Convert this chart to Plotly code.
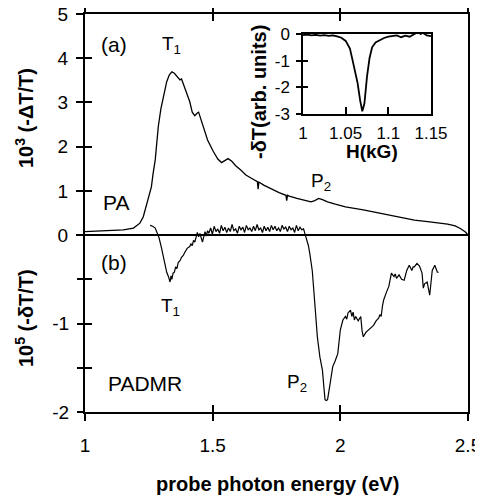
import plotly.graph_objects as go

# ---------------- data ----------------
pa_energy = [1.00, 1.05, 1.10, 1.15, 1.19, 1.215, 1.228, 1.247, 1.26, 1.267, 1.275, 1.287, 1.297,
             1.307, 1.32, 1.33, 1.34, 1.35, 1.36, 1.372, 1.378, 1.39, 1.40, 1.41, 1.42, 1.43,
             1.44, 1.445, 1.455, 1.465, 1.48, 1.50, 1.52, 1.535, 1.55, 1.56, 1.575, 1.59, 1.61,
             1.63, 1.65, 1.675, 1.678, 1.681, 1.70, 1.73, 1.76, 1.787, 1.79, 1.793, 1.80, 1.83,
             1.86, 1.885, 1.90, 1.915, 1.93, 1.95, 1.98, 2.02, 2.09, 2.16, 2.22, 2.29, 2.35,
             2.42, 2.45, 2.47, 2.49, 2.50]
pa_signal = [0.08, 0.09, 0.10, 0.12, 0.16, 0.27, 0.41, 0.79, 1.09, 1.40, 1.70, 2.45, 2.85,
             3.12, 3.47, 3.62, 3.69, 3.66, 3.60, 3.51, 3.53, 3.35, 3.20, 3.02, 2.78, 2.70,
             2.76, 2.78, 2.60, 2.40, 2.15, 1.92, 1.72, 1.64, 1.70, 1.73, 1.67, 1.57, 1.47,
             1.36, 1.29, 1.21, 1.04, 1.20, 1.13, 1.04, 0.96, 0.90, 0.78, 0.90, 0.88, 0.83,
             0.78, 0.75, 0.78, 0.83, 0.80, 0.75, 0.70, 0.64, 0.57, 0.49, 0.41, 0.34, 0.30,
             0.25, 0.21, 0.15, 0.07, 0.00]

padmr_energy = [1.255, 1.265, 1.275, 1.283, 1.287, 1.29, 1.30, 1.307, 1.315, 1.32, 1.327, 1.333,
                1.337, 1.34, 1.345, 1.35, 1.355, 1.36, 1.365, 1.372, 1.378, 1.385, 1.39, 1.395,
                1.40, 1.41, 1.415, 1.42, 1.425, 1.43, 1.435, 1.44, 1.445, 1.45, 1.455, 1.46,
                1.465, 1.47, 1.475, 1.48, 1.485,
                1.492, 1.499, 1.506, 1.513, 1.520, 1.527, 1.534, 1.541, 1.548, 1.555, 1.562,
                1.569, 1.576, 1.583, 1.590, 1.597, 1.604, 1.611, 1.618, 1.625, 1.632, 1.639,
                1.646, 1.653, 1.660, 1.667, 1.674, 1.681, 1.688, 1.695, 1.702, 1.709, 1.716,
                1.723, 1.730, 1.737, 1.744, 1.751, 1.758, 1.765, 1.772, 1.779, 1.786, 1.793,
                1.800, 1.807, 1.814, 1.821, 1.828, 1.835, 1.842, 1.849, 1.856, 1.861,
                1.865, 1.87, 1.875, 1.88, 1.885, 1.89, 1.90, 1.91, 1.92, 1.93, 1.935, 1.94,
                1.945, 1.95, 1.96, 1.97, 1.98, 1.99, 2.00, 2.01, 2.02, 2.025, 2.03, 2.04, 2.045,
                2.05, 2.055, 2.06, 2.07, 2.08, 2.085, 2.09, 2.10, 2.11, 2.12, 2.13, 2.14, 2.15,
                2.155, 2.16, 2.165, 2.17, 2.18, 2.19, 2.20, 2.21, 2.215, 2.22, 2.23, 2.24, 2.25,
                2.26, 2.27, 2.28, 2.285, 2.29, 2.30, 2.31, 2.32, 2.325, 2.33, 2.34, 2.35, 2.355,
                2.36, 2.37, 2.38, 2.385]
padmr_signal = [0.11, 0.10, 0.08, 0.03, 0.00, -0.03, -0.15, -0.25, -0.35, -0.42, -0.47, -0.53,
                -0.46, -0.50, -0.43, -0.42, -0.36, -0.38, -0.31, -0.29, -0.25, -0.23, -0.20, -0.18,
                -0.15, -0.13, -0.10, -0.12, -0.06, -0.08, -0.03, 0.03, -0.02, 0.02, -0.03, -0.08,
                -0.02, 0.04, -0.01, 0.05, 0.02,
                0.08, 0.01, 0.10, 0.04, 0.07, 0.02, 0.11, 0.05, 0.09, 0.03, 0.08,
                0.04, 0.12, 0.05, 0.07, 0.02, 0.10, 0.06, 0.09, 0.03, 0.11, 0.06,
                0.08, 0.04, 0.10, 0.05, 0.12, 0.06, 0.08, 0.03, 0.10, 0.05, 0.09,
                0.04, 0.11, 0.06, 0.10, 0.05, 0.08, 0.04, 0.11, 0.07, 0.09, 0.04,
                0.10, 0.06, 0.08, 0.03, 0.11, 0.05, 0.09, 0.06, 0.07, 0.02,
                -0.02, -0.06, -0.12, -0.20, -0.30, -0.40, -0.77, -1.15, -1.38, -1.53, -1.70, -1.86,
                -1.87, -1.86, -1.68, -1.49, -1.42, -1.34, -1.07, -0.96, -0.92, -0.95, -0.88, -0.85, -0.92,
                -0.87, -0.96, -0.92, -0.97, -0.92, -1.08, -1.15, -1.10, -1.07, -1.04, -1.02, -0.97, -0.94,
                -0.90, -0.92, -0.80, -0.73, -0.65, -0.58, -0.43, -0.47, -0.44, -0.49, -0.45, -0.50, -0.51,
                -0.40, -0.34, -0.40, -0.36, -0.36, -0.32, -0.35, -0.43, -0.60, -0.55, -0.53, -0.68, -0.50,
                -0.40, -0.34, -0.42, -0.42]

inset_field = [1.000, 1.005, 1.010, 1.015, 1.020, 1.025, 1.030, 1.035, 1.040, 1.045, 1.050, 1.055,
               1.058, 1.061, 1.064, 1.067, 1.0695, 1.072, 1.075, 1.078, 1.081, 1.085, 1.090, 1.095,
               1.100, 1.105, 1.110, 1.115, 1.120, 1.125, 1.130, 1.135, 1.138, 1.140, 1.145, 1.150]
inset_signal = [-0.04, -0.02, -0.05, -0.03, -0.06, -0.04, -0.07, -0.05, -0.09, -0.14, -0.26, -0.55,
                -0.97, -1.40, -1.84, -2.50, -2.90, -2.60, -1.60, -0.90, -0.50, -0.32, -0.22, -0.15,
                -0.10, -0.08, -0.05, -0.12, -0.06, -0.10, -0.02, 0.08, 0.00, 0.05, -0.05, -0.08]

x_ticks = [1, 1.5, 2, 2.5]
x_ticklabels = ["1", "1.5", "2", "2.5"]
top_ticks = [0, 1, 2, 3, 4, 5]
top_ticklabels = ["0", "1", "2", "3", "4", "5"]
bot_ticks = [-2, -1.5, -1, -0.5]
bot_ticklabels = ["-2", " ", "-1", " "]
inset_xticks = [1, 1.05, 1.1, 1.15]
inset_xticklabels = ["1", "1.05", "1.1", "1.15"]
inset_yticks = [0, -1, -2, -3]
inset_yticklabels = ["0", "-1", "-2", "-3"]

# ---------------- layout geometry ----------------
# the page body has an 8 px margin, so the figure is placed at (8, 8) in the window
OFF = 8
WIN_W, WIN_H = 483, 495
W, H = WIN_W - OFF, WIN_H - OFF
L, R, T, B = 85, 468, 14, 412          # plot area in window pixels
FONT = "Liberation Sans, Arial, Helvetica, sans-serif"


def px(x):
    return (x - L) / (R - L)


def py(y):
    return (B - y) / (B - T)


fig = go.Figure()
fig.add_trace(go.Scatter(x=pa_energy, y=pa_signal, mode="lines", xaxis="x", yaxis="y",
                         line=dict(color="black", width=1.3), showlegend=False))
fig.add_trace(go.Scatter(x=padmr_energy, y=padmr_signal, mode="lines", xaxis="x", yaxis="y2",
                         line=dict(color="black", width=1.2), showlegend=False))
clear = dict(color="rgba(0,0,0,0)", width=0)
fig.add_trace(go.Scatter(x=pa_energy, y=pa_signal, mode="lines", xaxis="x2", yaxis="y",
                         line=clear, showlegend=False, hoverinfo="skip"))
fig.add_trace(go.Scatter(x=pa_energy, y=pa_signal, mode="lines", xaxis="x", yaxis="y3",
                         line=clear, showlegend=False, hoverinfo="skip"))
fig.add_trace(go.Scatter(x=padmr_energy, y=padmr_signal, mode="lines", xaxis="x", yaxis="y4",
                         line=clear, showlegend=False, hoverinfo="skip"))
fig.add_trace(go.Scatter(x=inset_field, y=inset_signal, mode="lines", xaxis="x3", yaxis="y5",
                         line=dict(color="black", width=1.8), showlegend=False))
fig.add_trace(go.Scatter(x=inset_field, y=inset_signal, mode="lines", xaxis="x3", yaxis="y6",
                         line=clear, showlegend=False, hoverinfo="skip"))

tickfont = dict(family=FONT, size=19, color="black")
inset_tickfont = dict(family=FONT, size=17, color="black")
common = dict(showgrid=False, automargin=False, tickcolor="black", ticklabeloverflow="allow")

fig.update_layout(
    width=W, height=H,
    margin=dict(l=L - OFF, r=WIN_W - R, t=T - OFF, b=WIN_H - B, pad=0, autoexpand=False),
    paper_bgcolor="white", plot_bgcolor="white",
    font=dict(family=FONT, color="black"),
    xaxis=dict(domain=[0, 1], range=[1, 2.5], anchor="y", tickvals=x_ticks, ticktext=x_ticklabels,
               ticks="outside", ticklen=7, tickwidth=2, mirror="ticks",
               showline=True, linewidth=2, linecolor="black", zeroline=False,
               tickfont=tickfont, ticklabelstandoff=8, **common),
    xaxis2=dict(domain=[0, 1], range=[1, 2.5], anchor="y", overlaying="x", tickvals=x_ticks,
                ticks="inside", ticklen=7, tickwidth=2, mirror="ticks",
                showline=False, zeroline=False, showticklabels=False, **common),
    yaxis=dict(domain=[0, 1], range=[-4, 5], anchor="x", tickvals=top_ticks, ticktext=top_ticklabels,
               ticks="outside", ticklen=7, tickwidth=2,
               showline=True, linewidth=2, linecolor="black", mirror=True,
               zeroline=True, zerolinewidth=2, zerolinecolor="black",
               tickfont=tickfont, ticklabelstandoff=4, **common),
    yaxis2=dict(domain=[0, 1], range=[-2, 2.5], anchor="x", overlaying="y", tickvals=bot_ticks,
                ticktext=bot_ticklabels, ticks="outside", ticklen=7, tickwidth=2,
                showline=False, zeroline=False, tickfont=tickfont,
                ticklabelstandoff=4, **common),
    yaxis3=dict(domain=[0, 1], range=[-4, 5], anchor="x", overlaying="y", tickvals=top_ticks,
                ticks="inside", ticklen=7, tickwidth=2, showline=False,
                zeroline=False, showticklabels=False, **common),
    yaxis4=dict(domain=[0, 1], range=[-2, 2.5], anchor="x", overlaying="y", tickvals=bot_ticks,
                ticks="inside", ticklen=7, tickwidth=2, showline=False,
                zeroline=False, showticklabels=False, **common),
    xaxis3=dict(domain=[px(303), px(431)], range=[1, 1.15], anchor="y5", tickvals=inset_xticks,
                ticktext=inset_xticklabels, ticks="inside", ticklen=7, tickwidth=1.5,
                showline=True, linewidth=1.5, linecolor="black", mirror=True,
                zeroline=False, tickfont=inset_tickfont, ticklabelstandoff=3, **common),
    yaxis5=dict(domain=[py(114), py(34)], range=[-3, 0], anchor="x3", tickvals=inset_yticks,
                ticktext=inset_yticklabels, ticks="outside", ticklen=5, tickwidth=1.5,
                showline=True, linewidth=1.5, linecolor="black", mirror=True,
                zeroline=False, tickfont=inset_tickfont, ticklabelstandoff=3, **common),
    yaxis6=dict(domain=[py(114), py(34)], range=[-3, 0], anchor="x3", overlaying="y5",
                tickvals=inset_yticks, ticks="inside", ticklen=5, tickwidth=1.5,
                showline=False, zeroline=False, showticklabels=False, **common),
)


def label(text, x, y, size, bold=False, angle=0):
    if bold:
        text = "<b>" + text + "</b>"
    fig.add_annotation(text=text, x=px(x), y=py(y), xref="paper", yref="paper",
                       xanchor="center", yanchor="middle", showarrow=False, textangle=angle,
                       font=dict(family=FONT, size=size, color="black"))


label("10<sup>3</sup> (-ΔT/T)", 24, 118, 20, bold=True, angle=-90)
label("10<sup>5</sup> (-δT/T)", 24, 318, 20, bold=True, angle=-90)
label("probe photon energy (eV)", 277, 484, 20, bold=True)
label("-δT(arb. units)", 259, 92, 20, bold=True, angle=-90)
label("H(kG)", 372, 152, 19, bold=True)
label("(a)", 114, 45, 21)
label("T<sub>1</sub>", 171, 45, 19)
label("PA", 116, 202, 21)
label("P<sub>2</sub>", 321, 182, 19)
label("(b)", 114, 262, 21)
label("T<sub>1</sub>", 170, 307, 19)
label("PADMR", 145, 383, 21)
label("P<sub>2</sub>", 297, 383, 19)

fig.write_html("out.html")
